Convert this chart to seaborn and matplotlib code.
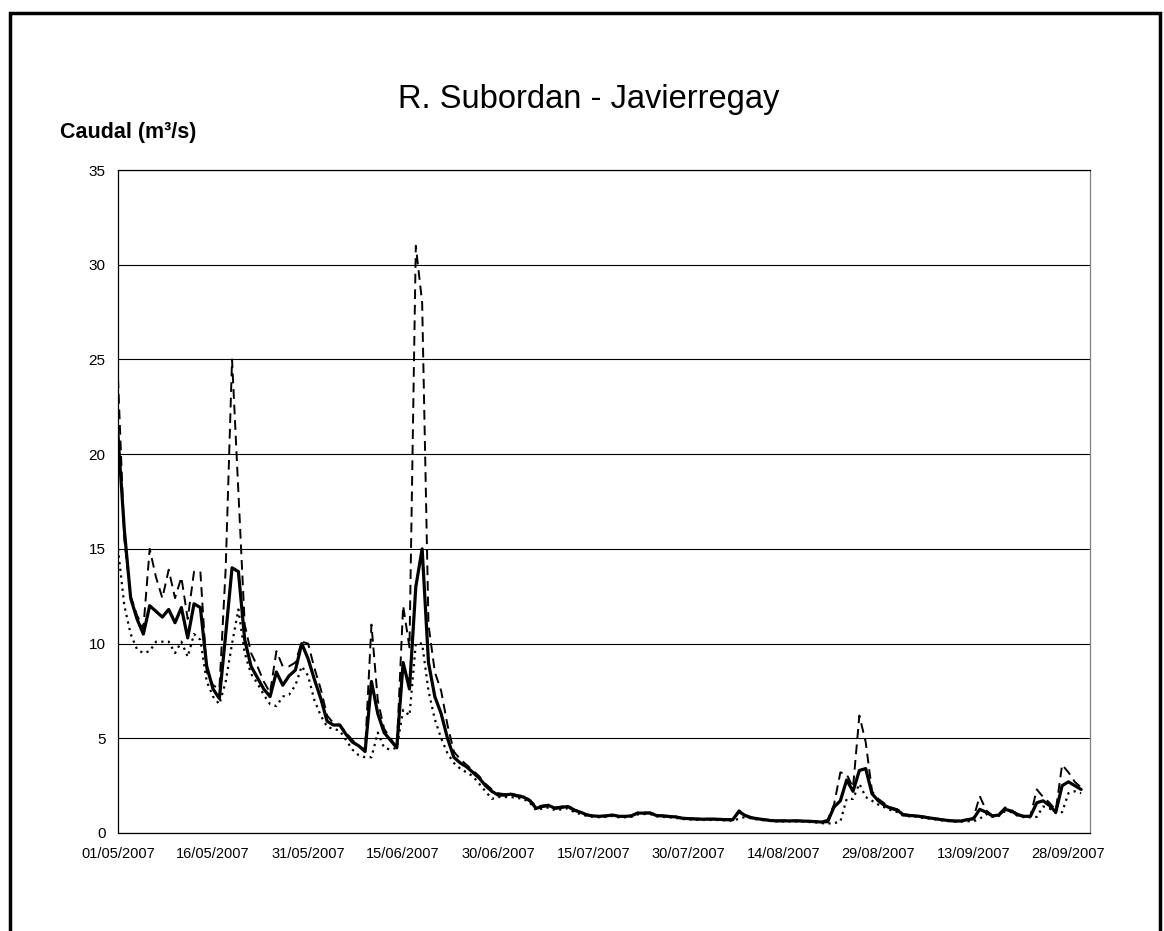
import numpy as np
import pandas as pd
import matplotlib
matplotlib.use("Agg")
import matplotlib.pyplot as plt
import matplotlib.dates as mdates
from matplotlib.patches import Rectangle
import seaborn as sns

# ---- data (daily, from 01/05/2007) ----
start_date = "2007-05-01"

q_mean = [
    21.0, 16.0, 12.4, 11.3, 10.5, 12.0, 11.7, 11.4, 11.8, 11.1,
    11.9, 10.3, 12.1, 11.9, 8.8, 7.6, 7.1, 10.5, 14.0, 13.8,
    10.2, 8.8, 8.2, 7.6, 7.2, 8.5, 7.8, 8.3, 8.6, 10.0,
    9.2, 8.1, 7.1, 5.9, 5.7, 5.7, 5.2, 4.8, 4.6, 4.3,
    8.0, 6.3, 5.3, 4.9, 4.5, 9.0, 7.6, 13.0, 15.0, 9.0,
    7.2, 6.3, 5.0, 4.0, 3.7, 3.5, 3.2, 2.9, 2.5, 2.2,
    2.0, 2.0, 2.05, 1.95, 1.9, 1.7, 1.3, 1.4, 1.45, 1.3,
    1.35, 1.4, 1.2, 1.1, 0.95, 0.9, 0.88, 0.9, 0.95, 0.88,
    0.88, 0.9, 1.05, 1.05, 1.05, 0.92, 0.9, 0.87, 0.85, 0.78,
    0.76, 0.74, 0.73, 0.73, 0.73, 0.72, 0.7, 0.7, 1.13, 0.92,
    0.8, 0.75, 0.7, 0.66, 0.64, 0.64, 0.64, 0.64, 0.63, 0.62,
    0.6, 0.58, 0.6, 1.37, 1.7, 2.8, 2.2, 3.3, 3.4, 2.07,
    1.7, 1.45, 1.3, 1.2, 0.95, 0.92, 0.9, 0.85, 0.8, 0.75,
    0.7, 0.66, 0.63, 0.63, 0.7, 0.75, 1.25, 1.1, 0.9, 0.95,
    1.25, 1.16, 0.96, 0.88, 0.88, 1.6, 1.7, 1.45, 1.1, 2.5,
    2.7, 2.5, 2.3,
]

q_max = [
    24.0, 15.5, 12.5, 11.5, 10.8, 15.0, 13.5, 12.4, 13.9, 12.4,
    13.5, 11.3, 13.8, 13.8, 8.5, 7.8, 7.6, 14.0, 25.0, 18.0,
    11.0, 9.5, 8.8, 8.0, 7.4, 9.6, 8.8, 8.8, 9.0, 10.1,
    10.0, 8.7, 7.6, 6.2, 5.8, 5.7, 5.3, 4.9, 4.6, 4.4,
    11.0, 7.0, 5.5, 5.0, 4.5, 12.0, 9.8, 31.0, 28.0, 11.0,
    8.5, 7.5, 5.7, 4.3, 3.9, 3.6, 3.3, 3.0, 2.6, 2.3,
    2.1, 2.05, 2.1, 2.0, 1.95, 1.75, 1.4, 1.45, 1.5, 1.35,
    1.4, 1.45, 1.25, 1.1, 0.98, 0.92, 0.9, 0.92, 0.98, 0.9,
    0.9, 0.92, 1.08, 1.08, 1.08, 0.95, 0.92, 0.9, 0.87, 0.8,
    0.78, 0.76, 0.75, 0.75, 0.75, 0.74, 0.72, 0.72, 1.2, 0.95,
    0.82, 0.77, 0.72, 0.68, 0.66, 0.66, 0.66, 0.66, 0.65, 0.64,
    0.62, 0.6, 0.7, 1.5, 3.2, 3.1, 2.4, 6.2, 4.8, 2.2,
    1.8, 1.55, 1.35, 1.25, 1.0, 0.95, 0.93, 0.88, 0.82, 0.77,
    0.72, 0.68, 0.65, 0.65, 0.72, 0.78, 1.95, 1.2, 0.92, 1.0,
    1.35, 1.2, 1.0, 0.9, 0.9, 2.3, 1.9, 1.6, 1.2, 3.6,
    3.2, 2.7, 2.4,
]

q_min = [
    15.0, 12.0, 10.5, 9.7, 9.5, 9.6, 10.1, 10.1, 10.1, 9.5,
    10.1, 9.3, 10.5, 10.2, 8.0, 7.2, 6.8, 8.0, 10.0, 11.8,
    9.5, 8.4, 7.9, 7.3, 6.8, 6.7, 7.2, 7.3, 7.8, 8.8,
    8.3, 7.0, 6.2, 5.6, 5.5, 5.4, 4.9, 4.4, 4.1, 4.0,
    4.0, 5.3, 4.5, 4.4, 4.5, 6.5, 6.2, 10.0, 10.0, 7.5,
    6.0, 5.0, 4.2, 3.7, 3.4, 3.2, 3.0, 2.6, 2.2, 1.8,
    1.9, 1.9, 1.9, 1.85, 1.8, 1.6, 1.2, 1.3, 1.35, 1.2,
    1.25, 1.3, 1.1, 1.0, 0.9, 0.85, 0.83, 0.85, 0.9, 0.83,
    0.83, 0.85, 0.98, 1.0, 1.0, 0.88, 0.85, 0.83, 0.8, 0.74,
    0.72, 0.7, 0.69, 0.69, 0.69, 0.68, 0.66, 0.65, 0.75, 0.85,
    0.76, 0.71, 0.67, 0.63, 0.61, 0.61, 0.61, 0.61, 0.6, 0.58,
    0.56, 0.52, 0.5, 0.52, 0.6, 1.8, 1.8, 2.6, 1.9, 1.7,
    1.5, 1.35, 1.2, 1.1, 0.9, 0.88, 0.86, 0.8, 0.76, 0.72,
    0.67, 0.63, 0.6, 0.6, 0.62, 0.62, 0.75, 1.0, 0.85, 0.9,
    1.15, 1.1, 0.9, 0.83, 0.83, 0.85, 1.4, 1.3, 1.05, 1.1,
    2.1, 2.2, 2.1,
]

y_ticks = [0, 5, 10, 15, 20, 25, 30, 35]
title_text = "R. Subordan - Javierregay"
ylabel_text = "Caudal (m³/s)"

dates = pd.date_range(start_date, periods=len(q_mean), freq="D")
df = pd.DataFrame({"fecha": dates, "media": q_mean, "maximo": q_max, "minimo": q_min})

# ---- figure ----
sns.set_style("white")
plt.rcParams["font.family"] = ["Liberation Sans", "DejaVu Sans"]

W, H = 1164, 931
fig = plt.figure(figsize=(W / 100, H / 100), dpi=100)
ax = fig.add_axes([118 / W, 1 - 833 / H, (1090 - 118) / W, (833 - 170) / H])

sns.lineplot(data=df, x="fecha", y="maximo", ax=ax, color="black",
             linewidth=1.4, linestyle=(0, (5, 3)), zorder=3)
sns.lineplot(data=df, x="fecha", y="minimo", ax=ax, color="black",
             linewidth=1.6, linestyle=(0, (1, 2)), zorder=3)
sns.lineplot(data=df, x="fecha", y="media", ax=ax, color="black",
             linewidth=2.3, linestyle="-", zorder=4)

ax.set_ylim(0, 35)
ax.set_yticks(y_ticks)
x0 = pd.Timestamp(start_date)
ax.set_xlim(x0, x0 + pd.Timedelta(days=153.4))
ax.set_xticks(pd.date_range(start_date, periods=11, freq="15D"))
ax.xaxis.set_major_formatter(mdates.DateFormatter("%d/%m/%Y"))

ax.set_xlabel("")
ax.set_ylabel("")
ax.yaxis.grid(True, color="black", linewidth=0.8)
ax.xaxis.grid(False)
ax.set_axisbelow(True)

for name, sp in ax.spines.items():
    sp.set_visible(True)
    sp.set_color("black")
    sp.set_linewidth(0.9)
ax.spines["right"].set_color("#808080")

ax.tick_params(axis="both", direction="out", length=5, width=0.8,
               color="black", labelsize=11, labelcolor="black")
ax.tick_params(axis="x", pad=5, labelsize=10.5)
ax.tick_params(axis="y", pad=4)

fig.text(589 / W, 1 - 108 / H, title_text, ha="center", va="baseline",
         fontsize=23.5, color="black")
fig.text(60 / W, 1 - 138 / H, ylabel_text, ha="left", va="baseline",
         fontsize=15.5, fontweight="bold", color="black")

frame = Rectangle((10 / W, -0.1), (1160 - 10) / W, (1 - 13 / H) + 0.1,
                  transform=fig.transFigure, fill=False, edgecolor="black",
                  linewidth=2.5, clip_on=False)
fig.add_artist(frame)

fig.savefig("out.png", dpi=100, facecolor="white")
